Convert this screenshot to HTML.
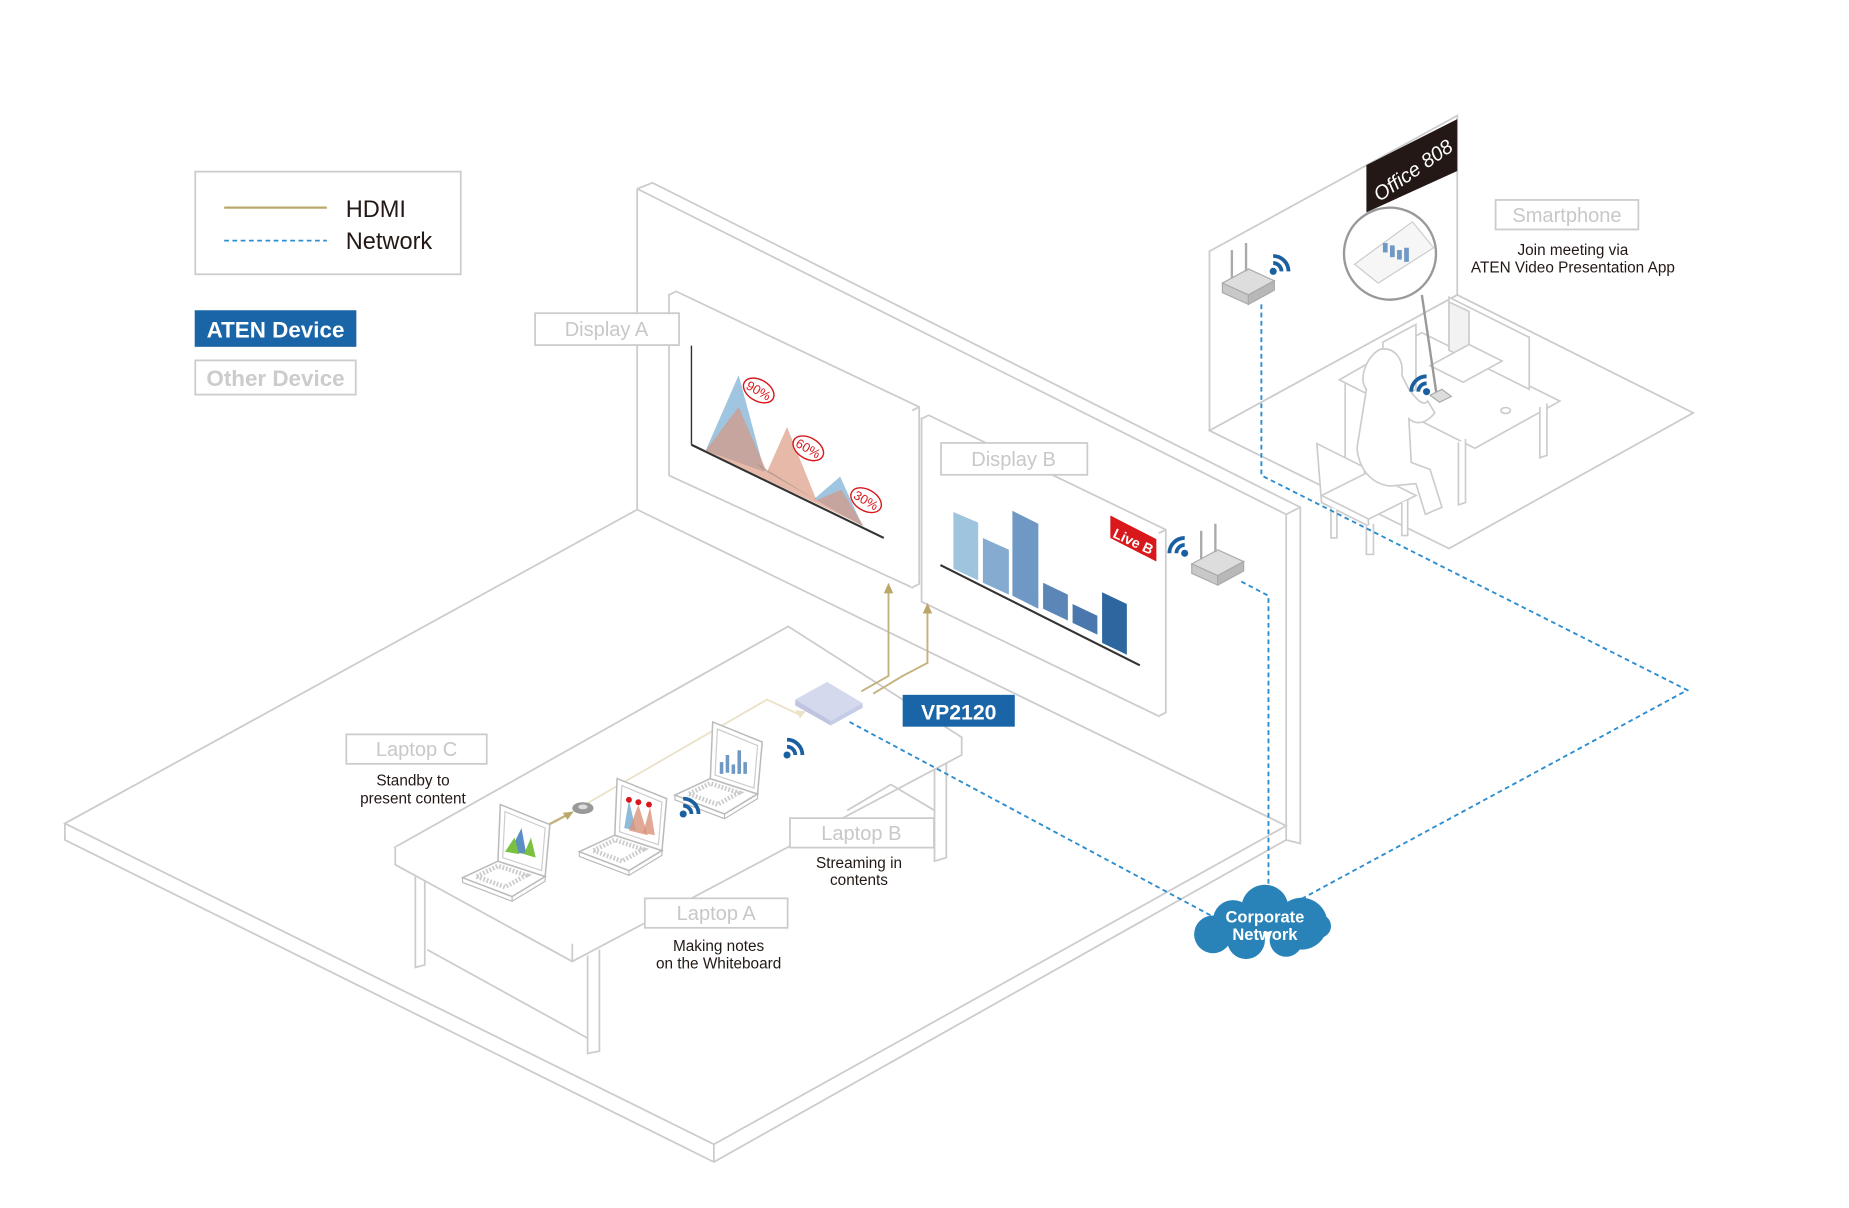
<!DOCTYPE html>
<html><head><meta charset="utf-8"><style>
html,body{margin:0;padding:0;background:#fff;width:1849px;height:1208px;overflow:hidden}
svg{display:block}
text{font-family:"Liberation Sans",Arial,sans-serif}
</style></head><body>
<svg width="1849" height="1208" viewBox="0 0 1567 1024" preserveAspectRatio="none" xmlns="http://www.w3.org/2000/svg">
<defs>
<g id="wifi">
<circle cx="0" cy="0" r="3" fill="#1a5fa0"/>
<path d="M0,-7 A7,7 0 0 1 7,0" stroke="#1a5fa0" stroke-width="3.2" fill="none"/>
<path d="M0,-13 A13,13 0 0 1 13,0" stroke="#1a5fa0" stroke-width="3.2" fill="none"/>
</g>
<g id="laptop">
<polygon points="-12,-30 28,-17 0,0 -42,-16" fill="#fff" stroke="#bbb" stroke-width="1.3"/>
<polyline points="-42,-16 -42,-12 0,4 28,-13 28,-17" fill="none" stroke="#bbb" stroke-width="1"/>
<line x1="0" y1="0" x2="0" y2="4" stroke="#bbb"/>
<polygon points="-30,-17 -6,-8 12,-18 -12,-26" fill="none" stroke="#ccc" stroke-width="4" stroke-dasharray="1.5 1.5"/>
<polygon points="-12,-30 28,-17 32,-61 -10,-78" fill="#fff" stroke="#bbb" stroke-width="1.3"/>
<polygon points="-8,-33 25,-22 28,-58 -6,-72" fill="#fff" stroke="#ccc" stroke-width="1"/>
</g>
<g id="router">
<polygon points="-22,0 0,10 22,-2 0,-12" fill="#ddd" stroke="#aaa"/>
<polygon points="-22,0 0,10 0,18 -22,8" fill="#c8c8c8" stroke="#aaa"/>
<polygon points="0,10 22,-2 22,6 0,18" fill="#b8b8b8" stroke="#aaa"/>
<line x1="-14" y1="-4" x2="-14" y2="-28" stroke="#aaa" stroke-width="2"/>
<line x1="-2" y1="-10" x2="-2" y2="-34" stroke="#aaa" stroke-width="2"/>
</g>
</defs>

<!-- Legend -->
<rect x="165.5" y="145.5" width="225" height="87" fill="#fff" stroke="#ccc" stroke-width="1.5"/>
<line x1="190" y1="176" x2="277" y2="176" stroke="#b9a86a" stroke-width="2"/>
<line x1="190" y1="204" x2="277" y2="204" stroke="#2e8ed0" stroke-width="1.5" stroke-dasharray="4 3"/>
<text x="293" y="184" font-size="20" fill="#231815">HDMI</text>
<text x="293" y="211" font-size="20" fill="#231815">Network</text>
<rect x="165" y="263" width="137" height="31" fill="#1a64a8"/>
<text x="233.5" y="286" font-size="19" font-weight="bold" fill="#fff" text-anchor="middle">ATEN Device</text>
<rect x="165.5" y="305.5" width="136" height="29" fill="#fff" stroke="#ccc" stroke-width="1.5"/>
<text x="233.5" y="327" font-size="19" font-weight="bold" fill="#ccc" text-anchor="middle">Other Device</text>

<!-- Main room floor -->
<g fill="none" stroke="#ccc" stroke-width="1.5">
<polygon points="55,698 540,432 1090,700 605,970"/>
<polyline points="55,698 55,712 605,985 1090,712 1090,700"/>
<line x1="605" y1="970" x2="605" y2="985"/>
<line x1="540" y1="160" x2="540" y2="432"/>
<polyline points="540,160 553,155 1102,430 1102,715 1090,712"/>
<polyline points="540,160 1090,436 1090,700"/>
<line x1="1090" y1="436" x2="1102" y2="430"/>
</g>

<!-- Display A -->
<g stroke="#ccc" stroke-width="1.5">
<polygon points="567,250 773,348 773,498 567,403" fill="#fff"/>
<polyline points="567,250 573,247 779,345 779,495 773,498" fill="#fff"/>
<line x1="773" y1="348" x2="779" y2="345"/>
</g>
<rect x="453.5" y="265.5" width="122" height="27" fill="#fff" stroke="#ccc" stroke-width="1.5"/>
<text x="514" y="285" font-size="17" fill="#c8c8c8" text-anchor="middle">Display A</text>
<line x1="586" y1="293" x2="586" y2="377" stroke="#333" stroke-width="1.2"/>
<line x1="586" y1="377" x2="749" y2="456" stroke="#333" stroke-width="1.8"/>
<polygon points="598,382 626,318 648,400" fill="#8fbbdb" opacity="0.85"/>
<polygon points="690,423 712,404 731,446" fill="#8fbbdb" opacity="0.85"/>
<polygon points="598,382 626,345 650,400 667,362 692,424 713,415 732,446" fill="#d9937a" opacity="0.65"/>
<polygon points="640,392 690,423 650,400" fill="#777" opacity="0.4"/>
<g fill="#fff" stroke="#d8181b" stroke-width="1.2">
<ellipse cx="643" cy="331" rx="14" ry="9" transform="rotate(30 643 331)"/>
<ellipse cx="685" cy="380" rx="14" ry="9" transform="rotate(30 685 380)"/>
<ellipse cx="734" cy="424" rx="14" ry="9" transform="rotate(30 734 424)"/>
</g>
<g font-size="11" fill="#d8181b" text-anchor="middle">
<text x="643" y="335" transform="rotate(30 643 331)">90%</text>
<text x="685" y="384" transform="rotate(30 685 380)">60%</text>
<text x="734" y="428" transform="rotate(30 734 424)">30%</text>
</g>

<!-- Display B -->
<g stroke="#ccc" stroke-width="1.5">
<polygon points="781,355 982,452 982,607 781,510" fill="#fff"/>
<polyline points="781,355 787,352 988,449 988,604 982,607" fill="#fff"/>
<line x1="982" y1="452" x2="988" y2="449"/>
</g>
<rect x="797.5" y="375.5" width="124" height="27" fill="#fff" stroke="#ccc" stroke-width="1.5"/>
<text x="859" y="395" font-size="17" fill="#c8c8c8" text-anchor="middle">Display B</text>
<polygon points="808,434 829,443 829,492 808,482" fill="#9ec4de"/>
<polygon points="833,456 855,466 855,504 833,494" fill="#85acd0"/>
<polygon points="858,433 880,444 880,516 858,505" fill="#6f98c4"/>
<polygon points="884,494 905,504 905,526 884,516" fill="#5a86b8"/>
<polygon points="909,512 930,522 930,538 909,528" fill="#4a77ad"/>
<polygon points="934,502 955,512 955,555 934,545" fill="#2e679f"/>
<line x1="797" y1="479" x2="966" y2="564" stroke="#333" stroke-width="1.8"/>
<polygon points="941,437 980,457 980,476 941,456" fill="#d8181b"/>
<text x="960" y="463" font-size="12" font-weight="bold" fill="#fff" text-anchor="middle" transform="rotate(25 960 460)">Live B</text>
<use href="#router" x="1032" y="478"/>
<use href="#wifi" x="1004" y="469" transform="rotate(-90 1004 469)"/>

<!-- Table -->
<g fill="#fff" stroke="#ccc" stroke-width="1.5">
<polyline points="352,740 352,820 360,818 360,745"/>
<polyline points="498,810 498,893 508,891 508,805"/>
<polyline points="792,640 792,730 802,727 802,635"/>
<polygon points="335,718 668,531 815,625 485,800"/>
<polyline points="335,718 335,733 485,815 815,640 815,625"/>
<line x1="485" y1="800" x2="485" y2="815"/>
<polyline points="362,805 498,880" fill="none"/>
<polyline points="718,687 755,665 792,687" fill="none"/>
</g>

<!-- HDMI lines -->
<g fill="none" stroke-width="1.6">
<polyline points="470,697 650,593 678,606" stroke="#ebe3c9"/>
<polyline points="730,586 753,573 753,500" stroke="#c3b27d"/>
<polyline points="740,588 765,573 786,562 786,517" stroke="#c3b27d"/>
<polyline points="463,700 482,690" stroke="#c3b27d" stroke-width="2"/>
</g>
<polygon points="753,494 749,503 757,503" fill="#b9a86a"/>
<polygon points="786,511 782,520 790,520" fill="#b9a86a"/>
<polygon points="486,688 477,689 481,695" fill="#b9a86a"/>
<polygon points="683,603 674,602 678,609" fill="#ebe3c9"/>

<!-- VP2120 -->
<polygon points="674,593 701,578 731,596 704,611" fill="#d5d9ee"/>
<polygon points="674,593 704,611 704,615 674,598" fill="#bfc4e0"/>
<polygon points="704,611 731,596 731,600 704,615" fill="#c6cbe6"/>
<rect x="765" y="589" width="95" height="27" fill="#1a64a8"/>
<text x="812.5" y="610" font-size="18" font-weight="bold" fill="#fff" text-anchor="middle">VP2120</text>

<!-- Laptops -->
<g transform="translate(434,760)">
<use href="#laptop"/>
<polygon points="-2,-38 8,-58 12,-36" fill="#5b8fc3"/>
<polygon points="-6,-38 2,-50 6,-36" fill="#7ac142"/>
<polygon points="10,-36 16,-50 20,-33" fill="#7ac142"/>
</g>
<g transform="translate(533,738)">
<use href="#laptop"/>
<polygon points="-4,-36 0,-60 6,-34" fill="#8fbbdb"/>
<polygon points="0,-34 8,-56 16,-30" fill="#d9937a" opacity="0.8"/>
<polygon points="12,-32 18,-54 22,-30" fill="#d9937a" opacity="0.8"/>
<circle cx="0" cy="-60" r="2.5" fill="#d8181b"/><circle cx="8" cy="-58" r="2.5" fill="#d8181b"/><circle cx="17" cy="-56" r="2.5" fill="#d8181b"/>
</g>
<g transform="translate(614,690)">
<use href="#laptop"/>
<g fill="#6f98c4"><rect x="-4" y="-44" width="3" height="10"/><rect x="1" y="-50" width="3" height="15"/><rect x="6" y="-42" width="3" height="8"/><rect x="11" y="-54" width="3" height="20"/><rect x="16" y="-44" width="3" height="10"/></g>
</g>
<use href="#wifi" x="579" y="690"/>
<use href="#wifi" x="667" y="640"/>
<ellipse cx="494" cy="685" rx="9" ry="5" fill="#999"/>
<ellipse cx="494" cy="684" rx="4" ry="2" fill="#ddd"/>

<!-- Labels -->
<g fill="#fff" stroke="#ccc" stroke-width="1.5">
<rect x="293.5" y="622.5" width="119" height="25"/>
<rect x="669.5" y="693.5" width="122" height="25"/>
<rect x="546.5" y="761.5" width="121" height="25"/>
<rect x="1267.5" y="169.5" width="121" height="25"/>
</g>
<g font-size="17" fill="#c8c8c8" text-anchor="middle">
<text x="353" y="641">Laptop C</text>
<text x="730" y="712">Laptop B</text>
<text x="607" y="780">Laptop A</text>
<text x="1328" y="188">Smartphone</text>
</g>
<g font-size="13" fill="#231815" text-anchor="middle">
<text x="350" y="666">Standby to</text>
<text x="350" y="681">present content</text>
<text x="728" y="736">Streaming in</text>
<text x="728" y="750">contents</text>
<text x="609" y="806">Making notes</text>
<text x="609" y="821">on the Whiteboard</text>
<text x="1333" y="216">Join meeting via</text>
<text x="1333" y="231">ATEN Video Presentation App</text>
</g>

<!-- Office room -->
<g fill="none" stroke="#ccc" stroke-width="1.5">
<polyline points="1025,365 1025,213 1235,98 1235,250"/>
<polygon points="1025,365 1235,250 1435,350 1228,465"/>
</g>
<polygon points="1158,140 1235,101 1235,145 1158,180" fill="#231815"/>
<text x="1198" y="150" font-size="17" fill="#fff" text-anchor="middle" font-style="italic" transform="rotate(-35 1198 145)">Office 808</text>
<g fill="#fff" stroke="#ccc" stroke-width="1.4">
<polygon points="1135,322 1205,282 1322,340 1250,380"/>
<polyline points="1140,325 1140,402 1146,400"/>
<polyline points="1236,375 1236,428 1242,426 1242,372"/>
<polyline points="1305,345 1305,388 1311,386 1311,342"/>
<polygon points="1228,252 1296,286 1296,330 1228,296"/>
<polygon points="1228,256 1245,264 1245,305 1228,297" fill="#f2f2f2"/>
<polygon points="1212,310 1245,292 1273,306 1240,324"/>
<polygon points="1172,290 1200,275 1200,330 1172,345"/>
<ellipse cx="1276" cy="348" rx="4" ry="2.5"/>
<polygon points="1116,376 1156,396 1160,446 1120,426"/>
<polygon points="1120,420 1160,440 1200,420 1160,400"/>
<polyline points="1128,430 1128,456 1133,456 1133,432"/>
<polyline points="1158,446 1158,470 1164,470 1164,444"/>
<polyline points="1188,426 1188,454 1193,454 1193,424"/>
<path d="M1158,330 C1150,320 1160,300 1170,296 C1182,294 1190,305 1188,318 L1194,330 C1200,338 1206,345 1210,340 L1216,350 C1208,360 1200,360 1194,355 L1196,392 L1212,398 L1222,430 L1208,436 L1200,410 L1178,412 C1162,410 1152,398 1150,380 Z"/>
</g>
<line x1="1205" y1="250" x2="1218" y2="338" stroke="#999" stroke-width="2"/>
<circle cx="1178" cy="215" r="39" fill="#fff" stroke="#999" stroke-width="2"/>
<polygon points="1148,224 1197,188 1215,210 1168,240" fill="#f6f6f6" stroke="#ccc"/>
<g fill="#6f98c4"><rect x="1172" y="206" width="4" height="8"/><rect x="1178" y="208" width="4" height="10"/><rect x="1184" y="212" width="4" height="8"/><rect x="1190" y="210" width="4" height="12"/></g>
<polygon points="1212,335 1222,330 1230,336 1220,341" fill="#ddd" stroke="#aaa"/>
<use href="#wifi" x="1209" y="332" transform="rotate(-90 1209 332)"/>
<use href="#router" x="1058" y="240"/>
<use href="#wifi" x="1079" y="230"/>

<!-- Network lines -->
<g fill="none" stroke="#2e8ed0" stroke-width="1.6" stroke-dasharray="4 3">
<line x1="720" y1="612" x2="1028" y2="777"/>
<polyline points="1052,493 1075,505 1075,752"/>
<polyline points="1069,258 1069,403 1430,585 1103,762"/>
</g>

<!-- Cloud -->
<g fill="#2a83b8">
<circle cx="1072" cy="770" r="20"/>
<circle cx="1045" cy="780" r="17"/>
<circle cx="1103" cy="783" r="22"/>
<circle cx="1028" cy="792" r="16"/>
<circle cx="1056" cy="797" r="16"/>
<circle cx="1090" cy="797" r="14"/>
<circle cx="1118" cy="785" r="10"/>
</g>
<text x="1072" y="782" font-size="14" font-weight="bold" fill="#fff" text-anchor="middle">Corporate</text>
<text x="1072" y="797" font-size="14" font-weight="bold" fill="#fff" text-anchor="middle">Network</text>
</svg>
</body></html>
